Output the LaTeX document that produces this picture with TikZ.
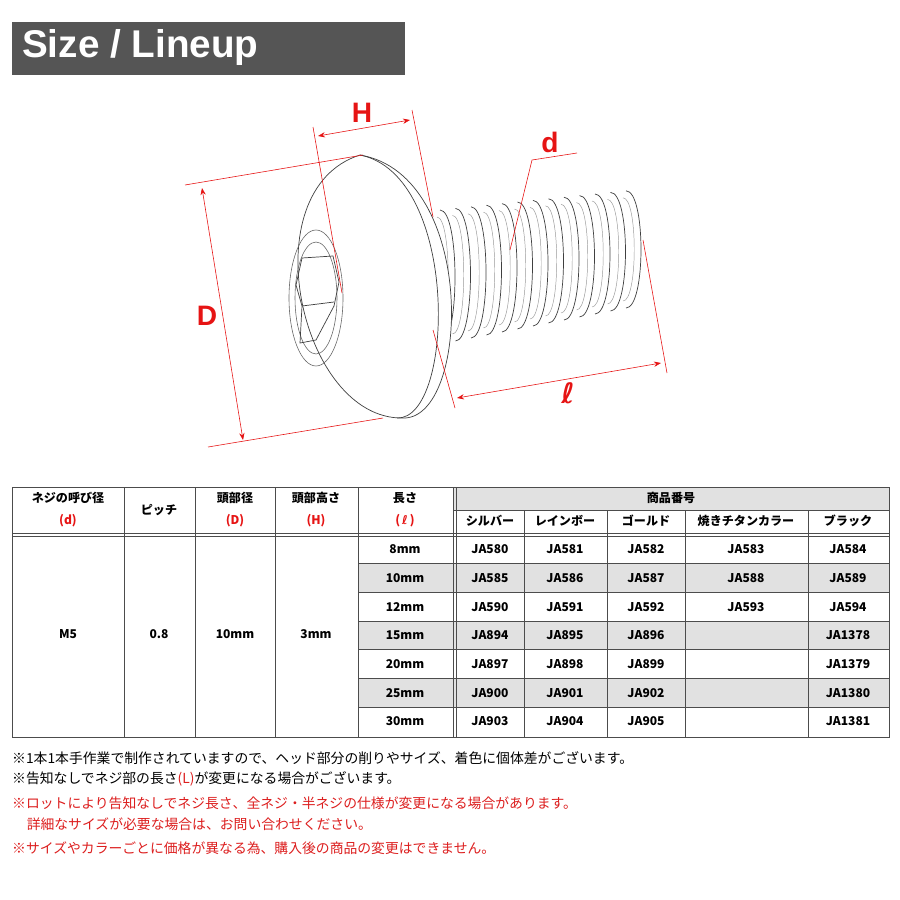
\documentclass[tikz,border=0pt]{standalone}
\usepackage{fontspec}
\setmainfont{Noto Sans CJK JP}
\newfontfamily\titlefont{Liberation Sans}
\usetikzlibrary{arrows.meta}
\definecolor{dimred}{RGB}{230,20,20}
\definecolor{notered}{RGB}{220,30,30}
\definecolor{hdrgray}{RGB}{225,225,225}
\definecolor{rowgray}{RGB}{225,225,225}
\definecolor{titlegray}{RGB}{85,85,85}
\tikzset{
 dim/.style={draw=dimred,line width=0.5pt},
 dimarrow/.style={dim,{Stealth[length=6pt]}-{Stealth[length=6pt]}},
 dimlabel/.style={text=dimred,font=\titlefont\bfseries\fontsize{24}{24}\selectfont},
 outline/.style={draw=black!75,line width=0.6pt},
 cell/.style={font=\bfseries\fontsize{10.3}{11}\selectfont},
 redcell/.style={cell,text=dimred},
 note/.style={anchor=west,font=\fontsize{11.8}{13}\selectfont,inner sep=0pt},
}
\begin{document}
\begin{tikzpicture}[x=0.3mm,y=-0.3mm]
\useasboundingbox (0,0) rectangle (900,900);
% title
\fill[titlegray] (12,22) rectangle (405,75);
\node[text=white,font=\titlefont\bfseries\fontsize{33}{33}\selectfont,anchor=west] (title) at (18,48) {Size / Lineup};
% threads
\foreach \i in {0,...,12}{
  \pgfmathsetmacro{\xx}{440+\i*15.5}
  \pgfmathsetmacro{\cy}{277-\i*2.3}
  \pgfmathsetmacro{\ry}{67-\i*0.7}
  \draw[outline,fill=white] (\xx,\cy-\ry) .. controls (\xx+20,\cy-\ry) and (\xx+20,\cy+\ry) .. (\xx,\cy+\ry);
  \draw[draw=black!40,line width=0.4pt] (\xx-3,\cy-\ry+7) .. controls (\xx+12,\cy-\ry+7) and (\xx+12,\cy+\ry-7) .. (\xx-3,\cy+\ry-7);
}
% head
\draw[outline,fill=white] (360,155) .. controls (478,175) and (470,420) .. (403,418) .. controls (300,420) and (250,190) .. (360,155) -- cycle;
\draw[outline] (360,155) .. controls (460,175) and (455,420) .. (397,418);
\draw[draw=black!60,line width=0.5pt] (316,298) ellipse[x radius=27,y radius=68];
\draw[draw=black!60,line width=0.5pt] (316,298) ellipse[x radius=21,y radius=56];
\draw[outline] (302,258) -- (333,256) -- (339,282) -- (334,306) -- (316,340) -- (300,343) -- (302,306) -- (296,285) -- cycle;
\draw[outline] (302,306) -- (334,302);
% dimensions
\coordinate (Ht1) at (313,127); \coordinate (Hb1) at (342,293);
\coordinate (Ht2) at (412,110); \coordinate (Hb2) at (433,217);
\draw[dim] (Ht1) -- (Hb1); \draw[dim] (Ht2) -- (Hb2);
\coordinate (Ha) at (318,136); \coordinate (Hz) at (410,120);
\draw[dimarrow] (Ha) -- (Hz);
\node[dimlabel] (H) at (362,113) {H};
\coordinate (Dt1) at (185,185); \coordinate (Dt2) at (363,155);
\coordinate (Db1) at (208,447); \coordinate (Db2) at (383,418);
\draw[dim] (Dt1) -- (Dt2); \draw[dim] (Db1) -- (Db2);
\coordinate (Da) at (202,188); \coordinate (Dz) at (243,440);
\draw[dimarrow] (Da) -- (Dz);
\node[dimlabel] (D) at (207,316) {D};
\coordinate (l1a) at (433,330); \coordinate (l1b) at (455,408);
\coordinate (l2a) at (643,240); \coordinate (l2b) at (667,373);
\draw[dim] (l1a) -- (l1b); \draw[dim] (l2a) -- (l2b);
\coordinate (la) at (457,398); \coordinate (lz) at (661,363);
\draw[dimarrow] (la) -- (lz);
\node[dimlabel] (ell) at (568,393) {\fontspec{DejaVu Sans}\bfseries ℓ};
\coordinate (d1) at (510,250); \coordinate (d2) at (532,160); \coordinate (d3) at (577,153);
\draw[dim] (d1) -- (d2) -- (d3);
\node[dimlabel] (dl) at (550,142) {d};
% table
\fill[hdrgray] (453,487) rectangle (889,510);
\foreach \r in {1,3,5}{\fill[rowgray] (358,{535+\r*28.7}) rectangle (889,{535+(\r+1)*28.7});}
\draw[black!70,line width=0.6pt] (12,487) rectangle (889,737);
\foreach \x in {124,195,275,358,453}{\draw[black!70,line width=0.6pt] (\x,487) -- (\x,737);}
\draw[black!70,line width=0.6pt] (456,487) -- (456,737);
\foreach \x in {524,607,685,808}{\draw[black!70,line width=0.6pt] (\x,510) -- (\x,737);}
\draw[black!70,line width=0.6pt] (453,510) -- (889,510);
\draw[black!70,line width=0.6pt] (12,533) -- (889,533);
\draw[black!70,line width=0.6pt] (12,536) -- (889,536);
\foreach \r in {1,...,6}{\draw[black!70,line width=0.6pt] (358,{535+\r*28.7}) -- (889,{535+\r*28.7});}
% headers
\node[cell] (h1) at (68,498) {ネジの呼び径};
\node[redcell] (h1b) at (68,521) {(d)};
\node[cell] (h2) at (159,510) {ピッチ};
\node[cell] (h3) at (235,498) {頭部径};
\node[redcell] (h3b) at (235,521) {(D)};
\node[cell] (h4) at (316,498) {頭部高さ};
\node[redcell] (h4b) at (316,521) {(H)};
\node[cell] (h5) at (405,498) {長さ};
\node[redcell] (h5b) at (405,521) {(\,{\fontspec{DejaVu Sans}\bfseries ℓ}\,)};
\node[cell] (h6) at (671,498) {商品番号};
\node[cell] (c1) at (490,521) {シルバー};
\node[cell] (c2) at (565,521) {レインボー};
\node[cell] (c3) at (646,521) {ゴールド};
\node[cell] (c4) at (746,521) {焼きチタンカラー};
\node[cell] (c5) at (848,521) {ブラック};
\node[cell] (m1) at (68,634) {M5};
\node[cell] (m2) at (159,634) {0.8};
\node[cell] (m3) at (235,634) {10mm};
\node[cell] (m4) at (316,634) {3mm};
\foreach [count=\r from 0] \L/\a/\b/\c/\dd/\e in {8mm/JA580/JA581/JA582/JA583/JA584,10mm/JA585/JA586/JA587/JA588/JA589,12mm/JA590/JA591/JA592/JA593/JA594,15mm/JA894/JA895/JA896//JA1378,20mm/JA897/JA898/JA899//JA1379,25mm/JA900/JA901/JA902//JA1380,30mm/JA903/JA904/JA905//JA1381}{
  \pgfmathsetmacro{\yy}{535+\r*28.7+14.3}
  \node[cell] (L\r) at (405,\yy) {\L};
  \node[cell] (A\r) at (490,\yy) {\a};
  \node[cell] (B\r) at (565,\yy) {\b};
  \node[cell] (C\r) at (646,\yy) {\c};
  \node[cell] (E\r) at (746,\yy) {\dd};
  \node[cell] (F\r) at (848,\yy) {\e};
}
% notes
\node[note] (n1) at (12,758) {※1本1本手作業で制作されていますので、ヘッド部分の削りやサイズ、着色に個体差がございます。};
\node[note] (n2) at (12,779) {※告知なしでネジ部の長さ\textcolor{notered}{(L)}が変更になる場合がございます。};
\node[note,text=notered] (n3) at (12,803) {※ロットにより告知なしでネジ長さ、全ネジ・半ネジの仕様が変更になる場合があります。};
\node[note,text=notered] (n4) at (12,824) {\hspace{1.05em}詳細なサイズが必要な場合は、お問い合わせください。};
\node[note,text=notered] (n5) at (12,848) {※サイズやカラーごとに価格が異なる為、購入後の商品の変更はできません。};
\end{tikzpicture}
\end{document}
